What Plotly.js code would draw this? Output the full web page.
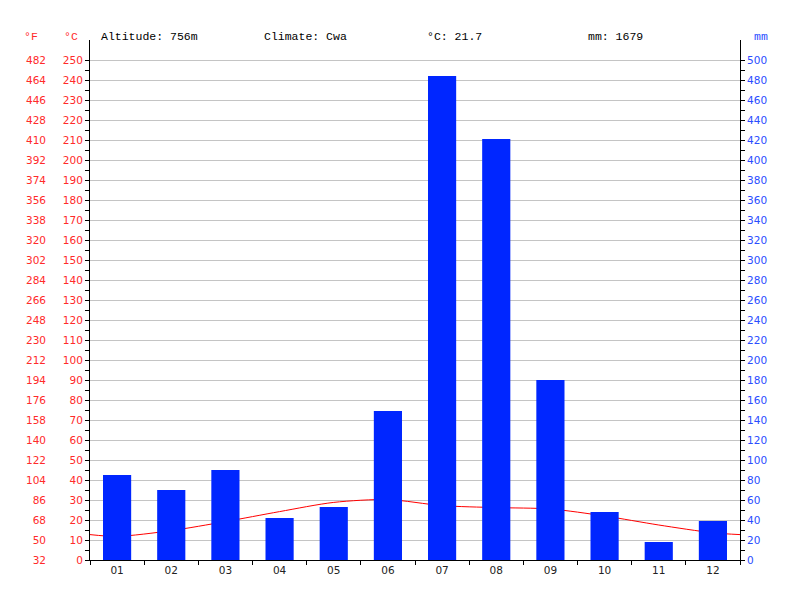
<!DOCTYPE html>
<html>
<head>
<meta charset="utf-8">
<script src="https://cdn.plot.ly/plotly-3.0.1.min.js"></script>
<style>html,body{margin:0;padding:0;background:#fff;}#chart{width:800px;height:600px;}</style>
</head>
<body>
<div id="chart"></div>
<script>
const months = ['01','02','03','04','05','06','07','08','09','10','11','12'];
const precipMm = [85, 70, 90, 42, 53, 149, 484, 421, 180, 48, 18, 39];
const tempC = [11.8, 14.7, 19.2, 24.2, 28.8, 30.2, 27.2, 26.2, 25.5, 22.0, 17.5, 13.6];
const altitude = '756m';
const climate = 'Cwa';

const xs = months.map((m, i) => i + 1);
const edge = (tempC[0] + tempC[11]) / 2;
const lineX = [0.5].concat(xs, [12.5]);
const lineY = [edge].concat(tempC, [edge]);
const lineF = lineY.map(c => 32 + c * 1.8);
const meanT = (tempC.reduce((a, b) => a + b, 0) / tempC.length).toFixed(1);
const sumP = precipMm.reduce((a, b) => a + b, 0);

const cTicks = [], fTicks = [], mmTicks = [], cMinor = [], mmMinor = [];
for (let c = 0; c <= 250; c += 10) { cTicks.push(c); fTicks.push(32 + c * 1.8); mmTicks.push(c * 2); }
for (let c = 5; c < 250; c += 10) { cMinor.push(c); mmMinor.push(c * 2); }

const F = 'Liberation Mono, DejaVu Sans Mono, monospace';
const T = 'DejaVu Sans, sans-serif';
const RED = '#ff0000', BLUE = '#0026ff', TRED = '#ff2a2a', TBLUE = '#2a4dff';

const traces = [
  {type: 'bar', x: xs, y: precipMm, yaxis: 'y2', width: 0.52,
   marker: {color: BLUE, line: {width: 0}}, hoverinfo: 'skip', showlegend: false},
  {type: 'scatter', mode: 'lines', x: lineX, y: lineY, yaxis: 'y',
   line: {color: RED, width: 1, shape: 'spline', smoothing: 0.8}, hoverinfo: 'skip', showlegend: false},
  // same temperatures in °F on the °F axis (transparent, only so the °F axis is drawn)
  {type: 'scatter', mode: 'lines', x: lineX, y: lineF, yaxis: 'y3',
   line: {color: 'rgba(0,0,0,0)', width: 0}, hoverinfo: 'skip', showlegend: false}
];

const ann = (x, text, color) => ({xref: 'paper', yref: 'paper', x: x / 800, y: (560 - 36) / 520,
  xanchor: 'left', yanchor: 'middle', text: text, showarrow: false, font: {family: F, size: 11.5, color: color}});

const layout = {
  width: 800, height: 600,
  margin: {l: 0, r: 0, t: 40, b: 40, pad: 0},
  paper_bgcolor: '#fff', plot_bgcolor: '#fff',
  showlegend: false,
  xaxis: {domain: [90/800, 740/800], range: [0.5, 12.5], tickmode: 'array', tickvals: xs, ticktext: months,
    ticks: '', showgrid: false, zeroline: false, showline: true, linecolor: '#000', linewidth: 1,
    tickfont: {family: T, size: 10.5, color: '#222'},
    minor: {tickmode: 'linear', tick0: 0.5, dtick: 1, ticks: 'outside', ticklen: 4, tickcolor: '#000', showgrid: false}},
  yaxis: {range: [0, 260], tickmode: 'array', tickvals: cTicks, ticktext: cTicks.map(String),
    ticks: 'outside', ticklen: 4, tickcolor: '#000', showgrid: true, gridcolor: '#c4c4c4', gridwidth: 1,
    zeroline: false, showline: true, linecolor: '#000', linewidth: 1,
    tickfont: {family: T, size: 10.5, color: TRED},
    minor: {tickmode: 'array', tickvals: cMinor, ticks: 'outside', ticklen: 4, tickcolor: '#000', showgrid: false}},
  yaxis2: {overlaying: 'y', side: 'right', anchor: 'x', range: [0, 520], tickmode: 'array', tickvals: mmTicks,
    ticktext: mmTicks.map(String), ticks: 'outside', ticklen: 4, tickcolor: '#000', showgrid: false,
    zeroline: false, showline: true, linecolor: '#000', linewidth: 1,
    tickfont: {family: T, size: 10.5, color: TBLUE},
    minor: {tickmode: 'array', tickvals: mmMinor, ticks: 'outside', ticklen: 4, tickcolor: '#000', showgrid: false}},
  yaxis3: {overlaying: 'y', anchor: 'free', position: 46/800, side: 'left', range: [32, 32 + 260 * 1.8],
    tickmode: 'array', tickvals: fTicks, ticktext: fTicks.map(v => String(Math.round(v))),
    ticks: '', showgrid: false, zeroline: false, showline: false,
    tickfont: {family: T, size: 10.5, color: TRED}},
  annotations: [
    ann(22, '°F', TRED), ann(62, '°C', TRED),
    ann(99, 'Altitude: ' + altitude, '#000'),
    ann(262, 'Climate: ' + climate, '#000'),
    ann(425, '°C: ' + meanT, '#000'),
    ann(586, 'mm: ' + sumP, '#000'),
    ann(752, 'mm', TBLUE)
  ]
};

Plotly.newPlot('chart', traces, layout, {staticPlot: true, displayModeBar: false});
</script>
</body>
</html>
